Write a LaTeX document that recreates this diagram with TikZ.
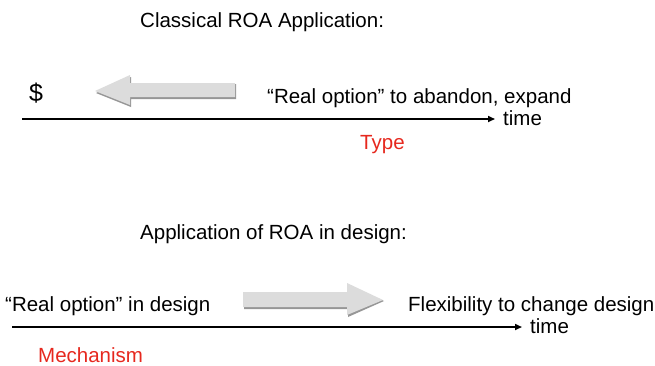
\documentclass[tikz,border=0pt]{standalone}
\usepackage{fontspec}
\setmainfont{Liberation Sans}
\usetikzlibrary{arrows.meta}
\definecolor{arrowgray}{RGB}{220,220,220}
\definecolor{shadowgray}{RGB}{150,150,150}
\definecolor{labelred}{RGB}{230,40,30}
\begin{document}
\begin{tikzpicture}[x=1pt,y=-1pt,
  txt/.style={font=\fontsize{20.5}{24}\selectfont, inner sep=0pt, anchor=base west},
  redtxt/.style={txt, text=labelred},
  timeline/.style={line width=1.6pt, -{Triangle[length=7pt,width=6pt]}},
  bigarrow/.style={fill=arrowgray},
  arrowshadow/.style={fill=shadowgray}]
\useasboundingbox (0,0) rectangle (655,365);
% top section
\node[txt] (t1) at (140,27) {Classical ROA Application:};
\node[txt,font=\fontsize{25}{28}\selectfont] (dollar) at (29,101) {\$};
\fill[arrowshadow] (236,84) -- (236,99) -- (131,99) -- (131,107) -- (96,93) -- (131,77) -- (131,84) -- cycle;
\fill[bigarrow] (235,83) -- (235,97) -- (130,97) -- (130,105) -- (95,91) -- (130,75) -- (130,83) -- cycle;
\node[txt] (ro1) at (267,103) {“Real option” to abandon, expand};
\coordinate (l1s) at (22,119);
\coordinate (l1e) at (495,119);
\draw[timeline] (l1s) -- (l1e);
\node[txt] (time1) at (503,125) {time};
\node[redtxt] (type) at (360,149) {Type};
% bottom section
\node[txt] (t2) at (140,239) {Application of ROA in design:};
\node[txt] (ro2) at (5,311) {“Real option” in design};
\fill[arrowshadow] (244,293) -- (348,293) -- (348,285) -- (384,301) -- (348,317) -- (348,309) -- (244,309) -- cycle;
\fill[bigarrow] (243,292) -- (347,292) -- (347,283) -- (383,300) -- (347,315) -- (347,307) -- (243,307) -- cycle;
\node[txt] (flex) at (408,311) {Flexibility to change design};
\coordinate (l2s) at (12,327);
\coordinate (l2e) at (522,327);
\draw[timeline] (l2s) -- (l2e);
\node[txt] (time2) at (530,333) {time};
\node[redtxt] (mech) at (38,362) {Mechanism};
\end{tikzpicture}
\end{document}
